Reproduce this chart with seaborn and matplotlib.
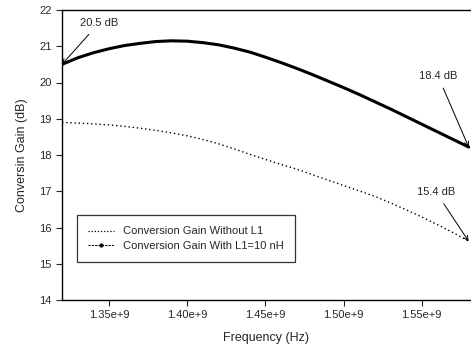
import numpy as np
import pandas as pd
import seaborn as sns
import matplotlib
matplotlib.use("Agg")
import matplotlib.pyplot as plt
from matplotlib.lines import Line2D
from matplotlib.ticker import FuncFormatter

# frequency sweep (Hz) and gain (dB)
freq = [1.32e9, 1.33e9, 1.34e9, 1.35e9, 1.36e9, 1.37e9, 1.38e9, 1.39e9,
        1.40e9, 1.41e9, 1.42e9, 1.43e9, 1.44e9, 1.45e9, 1.46e9, 1.47e9,
        1.48e9, 1.49e9, 1.50e9, 1.51e9, 1.52e9, 1.53e9, 1.54e9, 1.55e9,
        1.56e9, 1.57e9, 1.58e9]
gain_with_l1 = [20.50, 20.68, 20.82, 20.93, 21.02, 21.08, 21.13, 21.15,
                21.14, 21.10, 21.04, 20.95, 20.84, 20.70, 20.55, 20.39,
                20.22, 20.04, 19.86, 19.67, 19.47, 19.27, 19.06, 18.85,
                18.64, 18.43, 18.22]
gain_without_l1 = [18.90, 18.88, 18.86, 18.83, 18.79, 18.74, 18.68, 18.61,
                   18.53, 18.43, 18.31, 18.17, 18.02, 17.88, 17.74, 17.61,
                   17.46, 17.31, 17.16, 17.01, 16.86, 16.68, 16.49, 16.29,
                   16.08, 15.86, 15.62]

labels = ["Conversion Gain Without L1", "Conversion Gain With L1=10 nH"]
notes = ["20.5 dB", "18.4 dB", "15.4 dB"]

df = pd.DataFrame({"freq": freq, "with": gain_with_l1, "without": gain_without_l1})

sns.set_style("ticks")
plt.rcParams["font.family"] = ["Liberation Sans", "DejaVu Sans"]

fig = plt.figure(figsize=(4.71, 3.52), dpi=100)
ax = fig.add_axes([0.1316, 0.1477, 0.8684, 0.8239])

sns.lineplot(data=df, x="freq", y="without", ax=ax, color="black",
             linestyle=(0, (1, 2)), linewidth=1.0)
sns.lineplot(data=df, x="freq", y="with", ax=ax, color="black",
             linewidth=2.2)

ax.set_xlim(1.32e9, 1.5815e9)
ax.set_ylim(14, 22)
ax.set_yticks(range(14, 23))
ax.set_xticks([1.35e9, 1.40e9, 1.45e9, 1.50e9, 1.55e9])
ax.xaxis.set_major_formatter(FuncFormatter(lambda v, p: f"{v / 1e9:.2f}e+9"))
ax.tick_params(labelsize=8, length=4, width=0.8, direction="out")
ax.spines["right"].set_visible(False)
for s in ["left", "bottom", "top"]:
    ax.spines[s].set_linewidth(1.0)
    ax.spines[s].set_color("black")

ax.set_xlabel("Frequency (Hz)", fontsize=9, labelpad=8)
ax.set_ylabel("Conversin Gain (dB)", fontsize=9, labelpad=8)

arrow = dict(arrowstyle="->", lw=0.7, color="black", shrinkA=3, shrinkB=0)
ax.annotate(notes[0], xy=(freq[0], gain_with_l1[0]), xytext=(1.3437e9, 21.64),
            fontsize=8, ha="center", va="center", arrowprops=arrow)
ax.annotate(notes[1], xy=(freq[-1], gain_with_l1[-1]), xytext=(1.5604e9, 20.18),
            fontsize=8, ha="center", va="center", arrowprops=arrow)
ax.annotate(notes[2], xy=(freq[-1], gain_without_l1[-1]), xytext=(1.5591e9, 16.98),
            fontsize=8, ha="center", va="center", arrowprops=arrow)

handles = [
    Line2D([], [], color="black", linestyle=(0, (1, 1.5)), linewidth=0.9),
    Line2D([], [], color="black", linestyle=(0, (2, 1)), linewidth=0.8,
           marker="o", markersize=2),
]
leg = ax.legend(handles, labels, loc="lower left", bbox_to_anchor=(0.036, 0.131),
                borderaxespad=0, fontsize=8, frameon=True, fancybox=False,
                handlelength=2.4, borderpad=1.0, labelspacing=0.4, numpoints=1)
leg.get_frame().set_edgecolor("black")
leg.get_frame().set_linewidth(0.9)

fig.savefig("out.png", dpi=100)
